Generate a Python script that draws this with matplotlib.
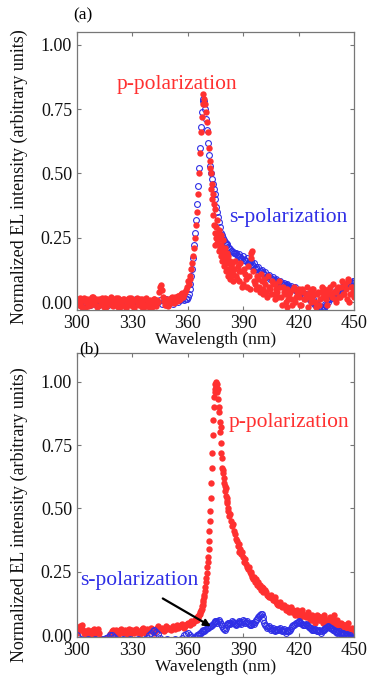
import numpy as np
import matplotlib
matplotlib.use('Agg')
import matplotlib.pyplot as plt
from matplotlib.ticker import FormatStrFormatter

plt.rcParams['font.family'] = ['Liberation Serif', 'DejaVu Serif']

# ---------------- data ----------------
x_ticks = [300, 330, 360, 390, 420, 450]
y_ticks = [0.00, 0.25, 0.50, 0.75, 1.00]
ylabel_text = "Normalized EL intensity (arbitrary units)"
xlabel_text = "Wavelength (nm)"

# ---- Panel (a) wavelength grids
wl_a1 = np.arange(300, 360)              # 300..359
wl_a2 = np.arange(359.5, 385.01, 0.5)    # 359.5..385
wl_a3 = np.arange(386, 451)              # 386..450
wl_ah1 = np.arange(300.5, 358.51, 1.0)   # 300.5..358.5
wl_ah2 = np.arange(385.5, 449.51, 1.0)   # 385.5..449.5
wl_aq = np.arange(372.25, 384.76, 0.5)   # 372.25..384.75

# p-polarization (a)
a_p1 = [0.010, -0.010, 0.005, -0.020, 0.015, 0.000, -0.015, 0.010, 0.020, -0.005,
        0.008, -0.020, 0.012, 0.000, -0.010, 0.015, -0.018, 0.005, 0.010, -0.012,
        0.000, 0.014, -0.020, 0.006, -0.008, 0.012, -0.015, 0.004, 0.016, -0.010,
        0.002, -0.022, 0.010, -0.005, 0.012, -0.018, 0.006, -0.010, 0.008, -0.020,
        0.004, -0.012, 0.010, -0.016, 0.000, 0.058, 0.045, 0.005, -0.012, 0.010,
        -0.008, 0.015, 0.000, 0.020, 0.005, 0.025, 0.010, 0.035, 0.030, 0.045]
a_p2 = [0.06, 0.08, 0.07, 0.10, 0.09, 0.13, 0.15, 0.18, 0.21, 0.25,
        0.30, 0.35, 0.42, 0.50, 0.58, 0.66, 0.72, 0.77, 0.81, 0.79,
        0.77, 0.74, 0.70, 0.66, 0.60, 0.55, 0.50, 0.46, 0.42, 0.38,
        0.27, 0.36, 0.25, 0.32, 0.24, 0.28, 0.21, 0.26, 0.19, 0.24,
        0.17, 0.21, 0.15, 0.19, 0.13, 0.18, 0.12, 0.16, 0.10, 0.15,
        0.11, 0.13]
a_p3 = [0.10, 0.14, 0.08, 0.12, 0.07, 0.11, 0.06, 0.10, 0.19, 0.20,
        0.08, 0.05, 0.09, 0.04, 0.08, 0.03, 0.07, 0.02, 0.06, 0.03,
        0.07, 0.01, 0.05, 0.02, 0.06, -0.01, 0.04, 0.00, -0.02, 0.03,
        0.01, 0.05, 0.00, 0.04, 0.02, -0.01, 0.05, 0.01, 0.03, -0.02,
        0.04, 0.02, 0.05, 0.00, 0.03, -0.01, 0.04, 0.02, 0.05, 0.01,
        0.03, 0.06, 0.02, 0.04, 0.00, 0.05, 0.02, 0.06, 0.03, 0.07,
        0.01, 0.08, 0.03, 0.06, 0.02]
a_ph1 = [-0.005, 0.015, -0.015, 0.008, -0.022, 0.012, 0.002, -0.012, 0.018, -0.002,
         0.010, -0.016, 0.006, 0.016, -0.020, 0.002, 0.012, -0.008, 0.018, -0.014,
         0.008, -0.004, 0.015, -0.018, 0.004, 0.010, -0.022, 0.012, -0.006, 0.014,
         -0.016, 0.006, 0.016, -0.012, 0.002, 0.010, -0.020, 0.014, -0.004, 0.008,
         -0.018, 0.012, -0.008, 0.006, 0.040, 0.065, 0.020, -0.010, 0.006, -0.015,
         0.010, 0.018, -0.004, 0.012, 0.022, 0.008, 0.030, 0.020, 0.040]
a_ph2 = [0.16, 0.09, 0.12, 0.15, 0.06, 0.13, 0.09, 0.14, 0.05, 0.17,
         0.12, 0.07, 0.10, 0.06, 0.11, 0.05, 0.09, 0.04, 0.10, 0.05,
         0.08, 0.03, 0.07, 0.04, 0.08, 0.02, 0.06, 0.03, 0.05, 0.01,
         0.04, -0.01, 0.06, 0.02, 0.03, 0.05, -0.01, 0.04, 0.01, 0.06,
         0.02, 0.00, 0.05, 0.03, -0.02, 0.04, 0.01, 0.06, 0.02, 0.04,
         -0.01, 0.05, 0.03, 0.07, 0.01, 0.04, 0.06, 0.02, 0.08, 0.03,
         0.05, 0.09, 0.00, 0.06, 0.04]
a_pq = [0.52, 0.44, 0.40, 0.34, 0.30, 0.22, 0.29, 0.23, 0.27, 0.20,
        0.25, 0.18, 0.22, 0.16, 0.20, 0.14, 0.18, 0.12, 0.17, 0.10,
        0.15, 0.09, 0.14, 0.11, 0.13, 0.08]

# s-polarization (a)
a_s1 = [0.000, -0.008, 0.005, -0.012, 0.002, -0.005, 0.008, -0.010, 0.000, 0.006,
        -0.006, 0.004, -0.012, 0.002, 0.008, -0.004, 0.000, -0.010, 0.006, 0.002,
        -0.008, 0.005, 0.000, -0.012, 0.008, -0.004, 0.003, -0.009, 0.006, 0.000,
        -0.006, 0.004, 0.010, -0.008, 0.002, -0.004, 0.007, -0.010, 0.000, 0.005,
        -0.006, 0.003, 0.008, -0.005, 0.000, 0.006, -0.008, 0.004, 0.010, -0.002,
        0.006, 0.000, -0.006, 0.004, 0.008, 0.002, 0.006, 0.010, 0.008, 0.012]
a_s2 = [0.01, 0.02, 0.03, 0.05, 0.07, 0.10, 0.13, 0.17, 0.22, 0.27,
        0.32, 0.38, 0.45, 0.52, 0.60, 0.68, 0.74, 0.78, 0.79, 0.78,
        0.75, 0.71, 0.67, 0.62, 0.57, 0.53, 0.50, 0.48, 0.46, 0.44,
        0.42, 0.40, 0.37, 0.35, 0.33, 0.31, 0.29, 0.27, 0.26, 0.25,
        0.24, 0.235, 0.23, 0.225, 0.22, 0.215, 0.21, 0.205, 0.20, 0.198,
        0.195, 0.19]
a_s3 = [0.19, 0.18, 0.185, 0.172, 0.178, 0.165, 0.17, 0.155, 0.16, 0.148,
        0.15, 0.135, 0.138, 0.122, 0.125, 0.112, 0.115, 0.10, 0.105, 0.092,
        0.097, 0.085, 0.089, 0.078, 0.082, 0.072, 0.075, 0.066, 0.069, 0.06,
        0.063, 0.054, 0.057, 0.047, 0.048, 0.038, 0.04, 0.028, 0.031, 0.018,
        0.02, 0.008, 0.01, -0.004, -0.008, -0.02, -0.025, -0.032, -0.024, -0.012,
        0.000, 0.012, 0.022, 0.028, 0.036, 0.04, 0.048, 0.05, 0.058, 0.06,
        0.066, 0.068, 0.073, 0.074, 0.08]
a_sh2 = [0.19, 0.182, 0.176, 0.175, 0.168, 0.162, 0.16, 0.152, 0.15, 0.142,
         0.14, 0.13, 0.128, 0.118, 0.12, 0.108, 0.11, 0.098, 0.1, 0.09,
         0.091, 0.082, 0.084, 0.075, 0.077, 0.07, 0.07, 0.064, 0.065, 0.058,
         0.058, 0.052, 0.052, 0.044, 0.043, 0.035, 0.034, 0.024, 0.024, 0.014,
         0.012, 0.004, 0.002, -0.006, -0.014, -0.022, -0.03, -0.028, -0.018, -0.006,
         0.006, 0.017, 0.025, 0.032, 0.038, 0.044, 0.049, 0.054, 0.059, 0.063,
         0.067, 0.07, 0.074, 0.077, 0.081]

# ---- Panel (b) wavelength grids
wl_b1 = np.arange(300, 365)              # 300..364
wl_b2 = np.arange(364.5, 382.01, 0.25)   # 364.5..382
wl_b3 = np.arange(382.5, 400.01, 0.5)    # 382.5..400
wl_b4 = np.arange(401, 451)              # 401..450
wl_bh1 = np.arange(300.5, 363.51, 1.0)   # 300.5..363.5
wl_bh2 = np.arange(400.5, 449.51, 1.0)   # 400.5..449.5
wl_bs = np.arange(300, 451)              # 300..450
wl_bsh = np.arange(365.5, 449.51, 1.0)   # 365.5..449.5

# p-polarization (b)
b_p1 = [0.010, 0.030, 0.020, 0.040, 0.010, 0.000, 0.020, -0.005, 0.015, 0.025,
        0.005, 0.020, 0.010, -0.020, -0.015, -0.025, -0.010, -0.020, 0.005, 0.015,
        0.010, 0.020, 0.000, 0.015, 0.025, 0.010, 0.020, 0.005, 0.025, 0.015,
        0.020, 0.010, 0.025, 0.015, 0.005, 0.020, 0.030, 0.010, 0.025, 0.015,
        0.030, 0.020, 0.010, 0.025, 0.035, 0.020, 0.030, 0.015, 0.035, 0.025,
        0.030, 0.020, 0.035, 0.025, 0.040, 0.030, 0.035, 0.045, 0.030, 0.040,
        0.050, 0.040, 0.055, 0.050, 0.060]
b_p2 = [0.060, 0.065, 0.060, 0.070, 0.068, 0.075, 0.080, 0.078, 0.085, 0.090,
        0.095, 0.100, 0.105, 0.115, 0.120, 0.130, 0.140, 0.150, 0.160, 0.175,
        0.190, 0.210, 0.225, 0.245, 0.270, 0.290, 0.310, 0.340, 0.370, 0.410,
        0.450, 0.490, 0.540, 0.600, 0.660, 0.720, 0.790, 0.850, 0.900, 0.940,
        0.970, 0.960, 0.990, 1.000, 0.980, 0.990, 0.960, 0.970, 0.930, 0.880,
        0.900, 0.840, 0.800, 0.820, 0.760, 0.720, 0.700, 0.660, 0.640, 0.650,
        0.620, 0.600, 0.590, 0.570, 0.580, 0.550, 0.540, 0.520, 0.530, 0.500,
        0.490]
b_p3 = [0.47, 0.48, 0.45, 0.43, 0.44, 0.41, 0.40, 0.38, 0.37, 0.35,
        0.36, 0.33, 0.34, 0.32, 0.33, 0.31, 0.29, 0.30, 0.28, 0.27,
        0.26, 0.27, 0.25, 0.24, 0.25, 0.23, 0.22, 0.23, 0.21, 0.22,
        0.20, 0.21, 0.19, 0.20, 0.18, 0.19]
b_p4 = [0.17, 0.18, 0.16, 0.15, 0.16, 0.14, 0.15, 0.13, 0.12, 0.13,
        0.11, 0.12, 0.10, 0.11, 0.09, 0.11, 0.10, 0.08, 0.10, 0.09,
        0.07, 0.10, 0.08, 0.07, 0.09, 0.06, 0.08, 0.07, 0.05, 0.08,
        0.06, 0.07, 0.05, 0.08, 0.06, 0.04, 0.07, 0.05, 0.08, 0.04,
        0.06, 0.03, 0.05, 0.02, 0.04, 0.03, 0.05, 0.01, 0.03, 0.02]
b_ph1 = [0.02, 0.035, 0.03, 0.02, 0.005, 0.01, 0.01, 0.005, 0.02, 0.015,
         0.015, 0.025, -0.01, -0.02, -0.02, -0.015, -0.02, -0.01, 0.01, 0.02,
         0.015, 0.01, 0.005, 0.02, 0.018, 0.015, 0.012, 0.02, 0.02, 0.01,
         0.015, 0.02, 0.018, 0.01, 0.012, 0.025, 0.02, 0.018, 0.02, 0.022,
         0.025, 0.015, 0.018, 0.03, 0.028, 0.025, 0.022, 0.025, 0.03, 0.028,
         0.025, 0.03, 0.03, 0.032, 0.035, 0.033, 0.04, 0.038, 0.035, 0.045,
         0.045, 0.048, 0.05, 0.055]
b_ph2 = [0.185, 0.175, 0.17, 0.155, 0.15, 0.145, 0.14, 0.14, 0.125, 0.12,
         0.12, 0.115, 0.11, 0.1, 0.1, 0.095, 0.09, 0.095, 0.085, 0.08,
         0.085, 0.09, 0.075, 0.08, 0.075, 0.07, 0.065, 0.06, 0.07, 0.065,
         0.075, 0.06, 0.065, 0.07, 0.05, 0.055, 0.06, 0.065, 0.06, 0.05,
         0.045, 0.04, 0.035, 0.045, 0.035, 0.04, 0.025, 0.02, 0.025, 0.015]

# s-polarization (b)
b_s = [0.000, -0.020, -0.015, -0.020, -0.025, -0.020, -0.015, -0.020, -0.025, -0.020,
       -0.015, -0.020, -0.025, -0.020, -0.015, -0.020, -0.010, -0.005, 0.000, 0.002,
       -0.005, -0.015, -0.020, -0.025, -0.020, -0.015, -0.020, -0.025, -0.020, -0.015,
       -0.020, -0.025, -0.020, -0.015, -0.020, -0.025, -0.020, -0.015, -0.010, 0.000,
       0.010, 0.015, 0.020, 0.012, 0.005, -0.010, -0.020, -0.025, -0.020, -0.015,
       -0.020, -0.025, -0.020, -0.015, -0.020, -0.025, -0.020, -0.010, 0.000, 0.005,
       0.008, 0.002, -0.005, -0.010, -0.005,
       0.000, 0.005, 0.010, 0.020, 0.015, 0.025, 0.030, 0.035, 0.040, 0.050,
       0.055, 0.050, 0.060, 0.045, 0.030, 0.020, 0.040, 0.050, 0.045, 0.055,
       0.050, 0.040, 0.050, 0.055, 0.045, 0.060, 0.050, 0.055, 0.045, 0.040,
       0.050, 0.045, 0.060, 0.070, 0.080, 0.085, 0.060, 0.040, 0.030, 0.035,
       0.020, 0.030, 0.015, 0.025, 0.020, 0.030, 0.015, 0.025, 0.010, 0.020,
       0.015, 0.030, 0.040, 0.045, 0.050, 0.055, 0.050, 0.045, 0.040, 0.045,
       0.035, 0.030, 0.025, 0.020, 0.025, 0.015, 0.020, 0.010, 0.020, 0.025,
       0.030, 0.035, 0.030, 0.025, 0.020, 0.015, 0.010, 0.015, 0.005, 0.010,
       0.000, 0.005, -0.005, 0.000, -0.010, -0.010]
b_sh = [0.002, 0.008, 0.015, 0.018, 0.02, 0.028, 0.032, 0.038, 0.045, 0.052,
        0.058, 0.055, 0.052, 0.038, 0.025, 0.03, 0.045, 0.048, 0.05, 0.052,
        0.045, 0.045, 0.052, 0.05, 0.052, 0.055, 0.052, 0.05, 0.042, 0.045,
        0.048, 0.052, 0.065, 0.075, 0.082, 0.072, 0.05, 0.035, 0.032, 0.028,
        0.025, 0.022, 0.02, 0.022, 0.025, 0.022, 0.02, 0.018, 0.015, 0.018,
        0.022, 0.035, 0.042, 0.048, 0.052, 0.052, 0.048, 0.042, 0.042, 0.04,
        0.032, 0.028, 0.022, 0.022, 0.02, 0.018, 0.015, 0.015, 0.022, 0.028,
        0.032, 0.032, 0.028, 0.022, 0.018, 0.012, 0.012, 0.01, 0.008, 0.005,
        0.002, 0.0, -0.002, -0.005, -0.01]

RED = '#ff3030'
BLUE = '#2f2fe6'
GRAY = '#777777'

# ---------------- figure ----------------
fig = plt.figure(figsize=(3.75, 6.81), dpi=100)
ax1 = fig.add_axes([0.205, 0.5448, 0.739, 0.4082])
ax2 = fig.add_axes([0.205, 0.0646, 0.739, 0.4170])


def style(ax, ylim, ylab_y):
    ax.set_xlim(300, 450)
    ax.set_ylim(*ylim)
    ax.set_xticks(x_ticks)
    ax.set_yticks(y_ticks)
    ax.yaxis.set_major_formatter(FormatStrFormatter('%.2f'))
    ax.tick_params(direction='in', top=True, right=True, length=3, width=0.8,
                   color=GRAY, labelsize=13, pad=3.5, labelcolor='#111111')
    for s in ax.spines.values():
        s.set_color(GRAY)
        s.set_linewidth(0.9)
    ax.set_xlabel(xlabel_text, fontsize=12.5, labelpad=0, color='#111111')
    ax.set_ylabel(ylabel_text, fontsize=13, color='#111111')
    ax.yaxis.set_label_coords(-0.177, ylab_y)


red_kw = dict(linestyle='none', marker='o', ms=4.6, color=RED, mec='none')
blue_kw = dict(linestyle='none', marker='o', ms=4.2, mfc='none', mec=BLUE, mew=0.8)

# Panel (a): blue below, red on top
wl_as = np.concatenate([wl_a1, wl_a2, wl_a3, wl_ah2])
ax1.plot(wl_as, a_s1 + a_s2 + a_s3 + a_sh2, **blue_kw)
wl_ap = np.concatenate([wl_a1, wl_a2, wl_a3, wl_ah1, wl_ah2, wl_aq])
ax1.plot(wl_ap, a_p1 + a_p2 + a_p3 + a_ph1 + a_ph2 + a_pq, **red_kw)
style(ax1, (-0.031, 1.05), 0.48)
ax1.text(354, 0.845, 'p-polarization', color=RED, fontsize=15.5, ha='center', va='center')
ax1.text(414.5, 0.33, 's-polarization', color=BLUE, fontsize=15.5, ha='center', va='center')

# Panel (b): red below, blue on top
wl_bp = np.concatenate([wl_b1, wl_b2, wl_b3, wl_b4, wl_bh1, wl_bh2])
ax2.plot(wl_bp, b_p1 + b_p2 + b_p3 + b_p4 + b_ph1 + b_ph2, **red_kw)
ax2.plot(np.concatenate([wl_bs, wl_bsh]), b_s + b_sh, **blue_kw)
style(ax2, (-0.007, 1.113), 0.43)
ax2.text(414.8, 0.84, 'p-polarization', color=RED, fontsize=15.5, ha='center', va='center')
ax2.text(334, 0.217, 's-polarization', color=BLUE, fontsize=15.5, ha='center', va='center')
ax2.annotate('', xy=(372.5, 0.035), xytext=(346.5, 0.145),
             arrowprops=dict(arrowstyle='-|>', color='black', lw=1.6,
                             mutation_scale=10, shrinkA=0, shrinkB=0))

fig.text(0.195, 0.978, '(a)', fontsize=12.5, ha='left', va='center')
fig.text(0.211, 0.4875, '(b)', fontsize=12.5, ha='left', va='center')

fig.savefig('out.png', dpi=100)
